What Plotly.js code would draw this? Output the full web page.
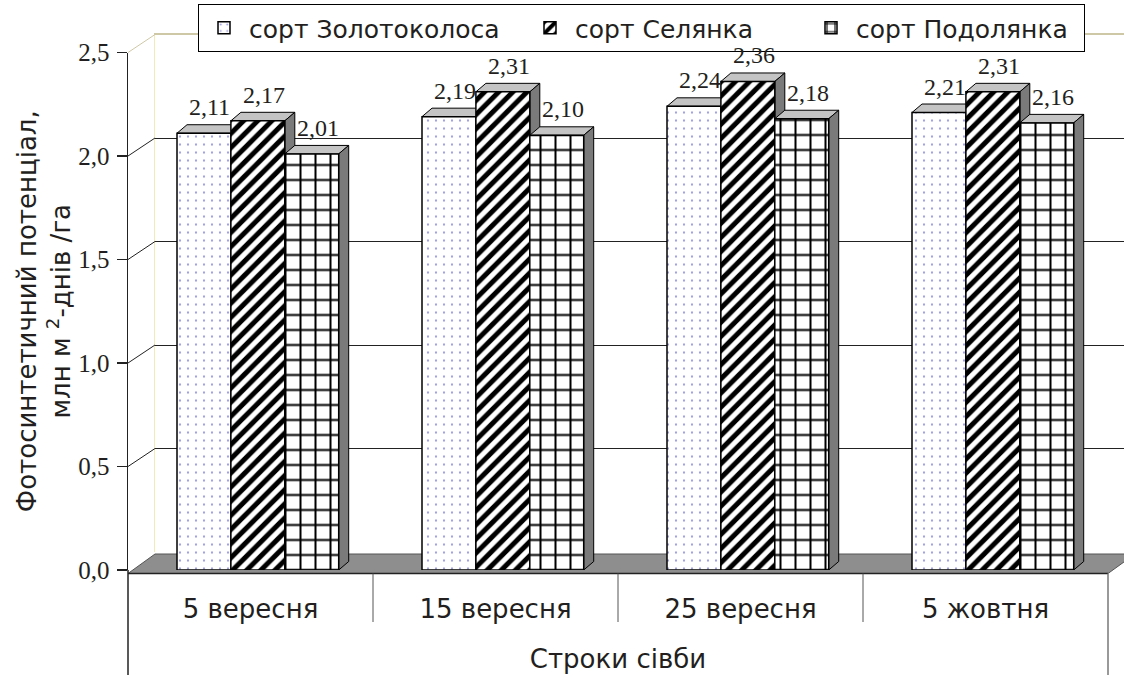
<!DOCTYPE html>
<html><head><meta charset="utf-8">
<script src="https://cdn.plot.ly/plotly-3.0.1.min.js"></script>
<style>html,body{margin:0;padding:0;background:#fff;} #chart{width:1124px;height:675px;}</style>
</head><body><div id="chart"></div>
<script>
// ---- data ----
const categories = ['5 вересня', '15 вересня', '25 вересня', '5 жовтня'];
const seriesNames = ['сорт Золотоколоса', 'сорт Селянка', 'сорт Подолянка'];
const zolotokolosa = [2.11, 2.19, 2.24, 2.21];
const selyanka = [2.17, 2.31, 2.36, 2.31];
const podolyanka = [2.01, 2.10, 2.18, 2.16];
const yTickValues = [0, 0.5, 1.0, 1.5, 2.0, 2.5];
const xTitle = 'Строки сівби';
const yTitle = 'Фотосинтетичний потенціал,<br>млн м <sup>2</sup>-днів /га';

// ---- geometry / style ----
const W = 1124, H = 675, ML = 128, MT = 34, MB = 105;
const PW = W - ML, PH = H - MT - MB;
const FRONT_W = 980, K = 207, YMAX = 2.5;
const DEPTH_X = 27, DEPTH_Y = 18;
const BAR_DX = 10, BAR_DY = 8.5;
const CAT_PX = FRONT_W / categories.length;
const BAR_W = 0.22;
const OFFSETS = [-0.30, -0.08, 0.14];
const LEGEND_WIDTHS = [271, 226, 223];
const SANS = 'DejaVu Sans, Liberation Sans, Arial, sans-serif';
const SERIF = 'Liberation Serif, Times New Roman, serif';
const TXT = '#231f20';
const series = [zolotokolosa, selyanka, podolyanka];
const patterns = [
  {shape: '.', bgcolor: '#ffffff', fgcolor: '#8c8cd8', size: 8, solidity: 0.06, fillmode: 'replace'},
  {shape: '/', bgcolor: '#ffffff', fgcolor: '#000000', size: 10, solidity: 0.5, fillmode: 'replace'},
  {shape: '+', bgcolor: '#ffffff', fgcolor: '#000000', size: 15, solidity: 0.25, fillmode: 'replace'}
];
const fmt = v => v.toFixed(2).replace('.', ',');
const xp = px => px / PW;            // pixel offset -> paper x
const yp = px => px / PH;            // pixel offset -> paper y
const vp = v => v * K / PH;          // value -> paper y (front)

// ---- traces ----
const traces = [{x: [], y: [], type: 'scatter', xaxis: 'x', yaxis: 'y', showlegend: false, hoverinfo: 'skip'}];
series.forEach((vals, j) => {
  traces.push({
    type: 'bar', name: seriesNames[j], x: categories, y: vals,
    xaxis: 'x2', yaxis: 'y2', width: BAR_W, offset: OFFSETS[j], legendwidth: LEGEND_WIDTHS[j],
    marker: {color: '#ffffff', pattern: patterns[j], line: {color: '#000', width: 1.5}},
    hoverinfo: 'skip'
  });
});

// ---- shapes ----
const shapes = [];
// floor
shapes.push({type: 'path', xref: 'paper', yref: 'paper', layer: 'below',
  path: `M0,${-yp(3.5)} L${xp(FRONT_W)},${-yp(3.5)} L${xp(FRONT_W + DEPTH_X)},${yp(16)} L${xp(DEPTH_X)},${yp(16)} Z`,
  fillcolor: '#8e8e8e', line: {color: '#555', width: 1}});
// front floor edge
shapes.push({type: 'line', xref: 'paper', yref: 'paper', x0: 0, x1: xp(FRONT_W), y0: -yp(3.5), y1: -yp(3.5), line: {color: '#222', width: 1.5}});
// diagonals from ticks to back wall
yTickValues.forEach(v => {
  if (v === 0) return;
  shapes.push({type: 'line', xref: 'paper', yref: 'paper', x0: 0, y0: vp(v), x1: xp(DEPTH_X), y1: vp(v) + yp(DEPTH_Y),
    line: {color: v === YMAX ? '#cfc8a6' : '#222', width: 1}});
});
// left axis extension, category separators
shapes.push({type: 'line', xref: 'paper', yref: 'paper', x0: 0, x1: 0, y0: 0, y1: -yp(MB), line: {color: '#222', width: 1.5}});
shapes.push({type: 'line', xref: 'paper', yref: 'paper', x0: xp(FRONT_W), x1: xp(FRONT_W), y0: -yp(3.5), y1: -yp(MB), line: {color: '#777', width: 1.5}});
for (let i = 1; i < categories.length; i++) {
  shapes.push({type: 'line', xref: 'paper', yref: 'paper', x0: xp(i * CAT_PX), x1: xp(i * CAT_PX), y0: -yp(3.5), y1: -yp(52), line: {color: '#555', width: 1}});
}
// 3D faces of bars
const ddx = BAR_DX / CAT_PX, ddy = BAR_DY / K;
categories.forEach((c, i) => {
  series.forEach((vals, j) => {
    const v = vals[i];
    const xl = i + OFFSETS[j], xr = xl + BAR_W;
    shapes.push({type: 'path', xref: 'x2', yref: 'y2', layer: 'below',
      path: `M${xl},${v} L${xr},${v} L${xr + ddx},${v + ddy} L${xl + ddx},${v + ddy} Z`,
      fillcolor: '#c4c4c4', line: {color: '#000', width: 1}});
    shapes.push({type: 'path', xref: 'x2', yref: 'y2', layer: 'below',
      path: `M${xr},0 L${xr + ddx},${ddy} L${xr + ddx},${v + ddy} L${xr},${v} Z`,
      fillcolor: '#7a7a7a', line: {color: '#000', width: 1}});
  });
});

// ---- value labels ----
const annotations = [];
categories.forEach((c, i) => {
  series.forEach((vals, j) => {
    annotations.push({xref: 'x2', yref: 'y2', x: i + OFFSETS[j] + BAR_W / 2, y: vals[i],
      text: fmt(vals[i]), showarrow: false, xanchor: 'center', yanchor: 'bottom', xshift: 6, yshift: 11,
      font: {family: SERIF, size: 24, color: TXT}});
  });
});

const layout = {
  width: W, height: H,
  margin: {l: ML, r: 0, t: MT, b: MB, pad: 0},
  paper_bgcolor: '#ffffff', plot_bgcolor: 'rgba(0,0,0,0)',
  separators: ',.',
  showlegend: true,
  legend: {orientation: 'h', x: xp(198 - ML), xanchor: 'left', y: 1 + yp(MT - 4), yanchor: 'top',
    bordercolor: '#000', borderwidth: 1, bgcolor: '#ffffff', itemwidth: 40,
    font: {family: SANS, size: 25, color: TXT}, traceorder: 'normal'},
  // back wall
  xaxis: {domain: [xp(DEPTH_X), 1], range: [-0.5, -0.5 + (PW - DEPTH_X) / CAT_PX], side: 'top',
    showline: true, linecolor: '#cfc8a6', linewidth: 1.5, showgrid: false, zeroline: false,
    showticklabels: false, ticks: '', fixedrange: true},
  yaxis: {domain: [yp(DEPTH_Y), yp(DEPTH_Y) + vp(YMAX)], range: [0, YMAX], anchor: 'x',
    showline: true, linecolor: '#f2eab8', linewidth: 1.5, showgrid: true, gridcolor: '#222', gridwidth: 1,
    tickvals: yTickValues.filter(v => v > 0 && v < YMAX), zeroline: false, showticklabels: false, ticks: '', fixedrange: true},
  // front
  xaxis2: {domain: [0, xp(FRONT_W)], range: [-0.5, categories.length - 0.5], anchor: 'y2', type: 'category',
    showline: false, showgrid: false, zeroline: false, ticks: '', ticklabelstandoff: 21,
    tickfont: {family: SANS, size: 26, color: TXT},
    title: {text: xTitle, font: {family: SANS, size: 26, color: TXT}, standoff: 26}},
  yaxis2: {domain: [0, vp(YMAX)], range: [0, YMAX], anchor: 'x2',
    showline: true, linecolor: '#222', linewidth: 1.5, showgrid: false, zeroline: false,
    ticks: 'outside', ticklen: 10, tickcolor: '#222', tickwidth: 1.5,
    tickvals: yTickValues, tickformat: '.1f', ticklabelstandoff: 2,
    tickfont: {family: SERIF, size: 25, color: TXT},
    title: {text: yTitle, font: {family: SANS, size: 26, color: TXT}, standoff: 0}},
  shapes: shapes,
  annotations: annotations
};

Plotly.newPlot('chart', traces, layout, {displayModeBar: false, staticPlot: true});
</script>
</body></html>
